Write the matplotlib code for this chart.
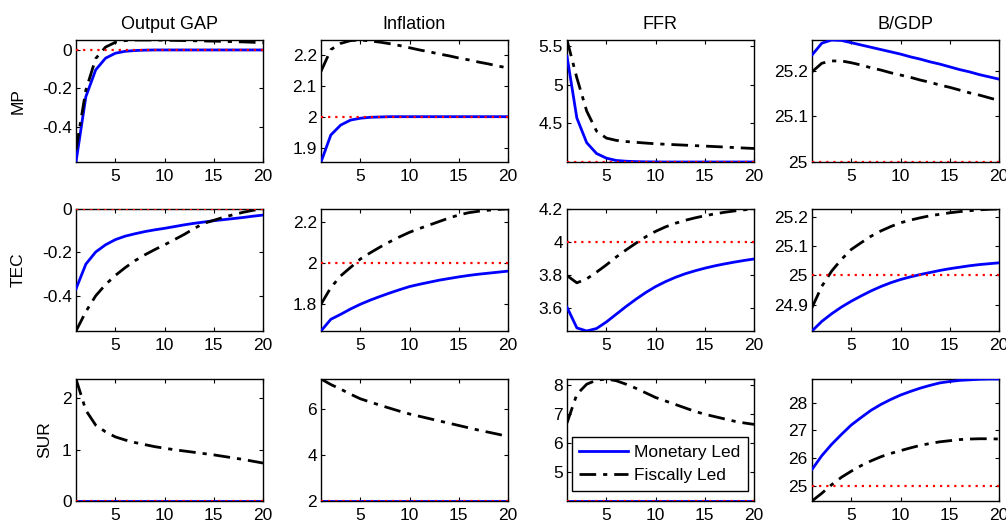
import matplotlib.pyplot as plt
import numpy as np
from matplotlib.ticker import FuncFormatter

plt.rcParams['font.family'] = ['Liberation Sans', 'DejaVu Sans']
plt.rcParams['font.size'] = 12.5

periods = np.arange(1, 21)
variables = ['Output GAP', 'Inflation', 'FFR', 'B/GDP']
shocks = ['MP', 'TEC', 'SUR']
steady = [0, 2, 4, 25]

# monetary led (blue) and fiscally led (black) responses, one list per panel
mp_gap_m = [-0.585, -0.244, -0.104, -0.043, -0.017, -0.007, -0.003, -0.001, 0, 0,
            0, 0, 0, 0, 0, 0, 0, 0, 0, 0]
mp_gap_f = [-0.52, -0.21, -0.045, 0.015, 0.04, 0.049, 0.052, 0.052, 0.052, 0.051,
            0.050, 0.049, 0.048, 0.047, 0.046, 0.045, 0.043, 0.042, 0.040, 0.038]
mp_inf_m = [1.854, 1.941, 1.973, 1.989, 1.995, 1.998, 1.999, 2.0, 2.0, 2.0,
            2.0, 2.0, 2.0, 2.0, 2.0, 2.0, 2.0, 2.0, 2.0, 2.0]
mp_inf_f = [2.146, 2.216, 2.236, 2.245, 2.247, 2.244, 2.240, 2.235, 2.229, 2.222,
            2.215, 2.209, 2.202, 2.196, 2.189, 2.183, 2.176, 2.170, 2.163, 2.157]
mp_ffr_m = [5.37, 4.57, 4.25, 4.11, 4.05, 4.02, 4.01, 4.005, 4.002, 4.001,
            4.0, 4.0, 4.0, 4.0, 4.0, 4.0, 4.0, 4.0, 4.0, 4.0]
mp_ffr_f = [5.58, 5.09, 4.66, 4.40, 4.31, 4.28, 4.265, 4.255, 4.245, 4.236,
            4.23, 4.224, 4.218, 4.212, 4.206, 4.2, 4.194, 4.187, 4.181, 4.175]
mp_debt_m = [25.235, 25.261, 25.268, 25.267, 25.262, 25.257, 25.252, 25.247, 25.242, 25.237,
             25.231, 25.226, 25.220, 25.215, 25.209, 25.203, 25.198, 25.192, 25.187, 25.182]
mp_debt_f = [25.198, 25.217, 25.222, 25.222, 25.218, 25.213, 25.207, 25.202, 25.196, 25.191,
             25.186, 25.180, 25.175, 25.169, 25.164, 25.158, 25.152, 25.147, 25.141, 25.135]

tec_gap_m = [-0.368, -0.254, -0.198, -0.165, -0.141, -0.125, -0.114, -0.104, -0.096, -0.089,
             -0.081, -0.073, -0.066, -0.060, -0.054, -0.049, -0.044, -0.039, -0.033, -0.028]
tec_gap_f = [-0.562, -0.473, -0.400, -0.348, -0.306, -0.270, -0.238, -0.211, -0.187, -0.165,
             -0.141, -0.117, -0.090, -0.066, -0.052, -0.038, -0.026, -0.015, -0.006, 0.0]
tec_inf_m = [1.67, 1.727, 1.751, 1.777, 1.80, 1.82, 1.838, 1.855, 1.871, 1.886,
             1.897, 1.907, 1.917, 1.925, 1.933, 1.940, 1.946, 1.951, 1.956, 1.961]
tec_inf_f = [1.80, 1.881, 1.938, 1.979, 2.02, 2.05, 2.078, 2.104, 2.128, 2.15,
             2.168, 2.185, 2.202, 2.219, 2.234, 2.245, 2.252, 2.257, 2.261, 2.263]
tec_ffr_m = [3.605, 3.479, 3.46, 3.475, 3.515, 3.562, 3.609, 3.653, 3.694, 3.73,
             3.76, 3.786, 3.808, 3.826, 3.842, 3.856, 3.868, 3.879, 3.889, 3.898]
tec_ffr_f = [3.797, 3.753, 3.777, 3.818, 3.862, 3.91, 3.953, 3.994, 4.033, 4.066,
             4.093, 4.115, 4.133, 4.148, 4.161, 4.172, 4.182, 4.19, 4.197, 4.202]
tec_debt_m = [24.81, 24.843, 24.869, 24.892, 24.912, 24.93, 24.947, 24.962, 24.975, 24.986,
              24.995, 25.003, 25.01, 25.017, 25.023, 25.028, 25.033, 25.037, 25.040, 25.043]
tec_debt_f = [24.89, 24.963, 25.015, 25.055, 25.089, 25.112, 25.134, 25.152, 25.167, 25.18,
              25.189, 25.197, 25.204, 25.209, 25.214, 25.218, 25.221, 25.224, 25.226, 25.227]

sur_gap_m = [0] * 20
sur_gap_f = [2.38, 1.77, 1.48, 1.35, 1.25, 1.19, 1.14, 1.10, 1.06, 1.03,
             1.00, 0.975, 0.95, 0.925, 0.90, 0.87, 0.84, 0.81, 0.775, 0.74]
sur_inf_m = [2] * 20
sur_inf_f = [7.30, 7.06, 6.86, 6.64, 6.44, 6.30, 6.16, 6.03, 5.90, 5.78,
             5.68, 5.58, 5.48, 5.38, 5.28, 5.18, 5.08, 4.99, 4.90, 4.80]
sur_ffr_m = [4] * 20
sur_ffr_f = [6.70, 7.69, 8.04, 8.18, 8.22, 8.16, 8.04, 7.90, 7.74, 7.58,
             7.46, 7.34, 7.22, 7.10, 7.00, 6.92, 6.84, 6.76, 6.70, 6.65]
sur_debt_m = [25.59, 26.09, 26.50, 26.86, 27.20, 27.47, 27.73, 27.94, 28.12, 28.28,
              28.41, 28.53, 28.63, 28.72, 28.77, 28.81, 28.83, 28.85, 28.86, 28.86]
sur_debt_f = [24.45, 24.73, 25.04, 25.31, 25.53, 25.73, 25.90, 26.05, 26.17, 26.27,
              26.37, 26.46, 26.53, 26.59, 26.63, 26.67, 26.69, 26.70, 26.70, 26.69]

monetary = [[mp_gap_m, mp_inf_m, mp_ffr_m, mp_debt_m],
            [tec_gap_m, tec_inf_m, tec_ffr_m, tec_debt_m],
            [sur_gap_m, sur_inf_m, sur_ffr_m, sur_debt_m]]
fiscal = [[mp_gap_f, mp_inf_f, mp_ffr_f, mp_debt_f],
          [tec_gap_f, tec_inf_f, tec_ffr_f, tec_debt_f],
          [sur_gap_f, sur_inf_f, sur_ffr_f, sur_debt_f]]

yticks = [[[-0.4, -0.2, 0], [1.9, 2, 2.1, 2.2], [4.5, 5, 5.5], [25, 25.1, 25.2]],
          [[-0.4, -0.2, 0], [1.8, 2, 2.2], [3.6, 3.8, 4, 4.2], [24.9, 25, 25.1, 25.2]],
          [[0, 1, 2], [2, 4, 6], [5, 6, 7, 8], [25, 26, 27, 28]]]

fig = plt.figure(figsize=(10.06, 5.25), dpi=100)
W, H = 1006, 525
lefts = [76, 321, 567, 812]
tops = [40, 209, 379]
aw, ah = 187, 122
label_x = [-0.27, -0.27, -0.125]

fmt = FuncFormatter(lambda v, p: '%g' % round(v, 6))

for i in range(3):
    for j in range(4):
        ax = fig.add_axes([lefts[j] / W, 1 - (tops[i] + ah) / H, aw / W, ah / H])
        m = np.array(monetary[i][j], dtype=float)
        f = np.array(fiscal[i][j], dtype=float)
        ax.plot(periods, m, color='#0000ff', lw=2, label='Monetary Led', zorder=3)
        ax.plot(periods, f, color='black', lw=2, ls=(0, (6, 2.5, 1.5, 2.5)),
                label='Fiscally Led', zorder=3)
        ax.axhline(steady[j], color='red', lw=1.6, ls=(0, (1, 2.2)), zorder=4)
        lo = min(m.min(), f.min(), steady[j])
        hi = max(m.max(), f.max(), steady[j])
        ax.set_xlim(1, 20)
        ax.set_ylim(lo, hi)
        ax.set_xticks([5, 10, 15, 20])
        ax.set_yticks(yticks[i][j])
        ax.yaxis.set_major_formatter(fmt)
        ax.tick_params(direction='in', top=True, right=True, length=3,
                       labelsize=12.5)
        ax.tick_params(axis='x', pad=5)
        ax.tick_params(axis='y', pad=3)
        for s in ax.spines.values():
            s.set_linewidth(1.0)
        if i == 0:
            ax.set_title(variables[j], fontsize=13, pad=8)
        if j == 0:
            ax.set_ylabel(shocks[i], fontsize=12.5)
            ax.yaxis.set_label_coords(label_x[i], 0.5)
        if i == 2 and j == 2:
            ax.legend(loc='lower left', bbox_to_anchor=(0.025, 0.085), fancybox=False,
                      edgecolor='black', framealpha=1, fontsize=12.5, handlelength=2.8,
                      borderaxespad=0, borderpad=0.45, labelspacing=0.45,
                      handletextpad=0.35)

fig.savefig('out.png', dpi=100)
